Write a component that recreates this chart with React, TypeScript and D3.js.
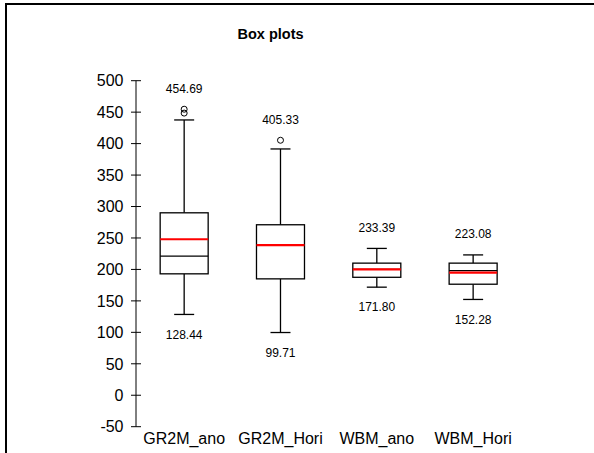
import React from "react";
import * as d3 from "d3";

const categories = ["GR2M_ano", "GR2M_Hori", "WBM_ano", "WBM_Hori"];
const whiskerMin = [128.44, 99.71, 171.8, 152.28];
const q1 = [193, 185, 187.5, 176.5];
const median = [221, 238.5, 200, 198];
const mean = [248, 238.5, 200.2, 195];
const q3 = [290, 271, 210, 210];
const whiskerMax = [437.6, 391.5, 233.39, 223.08];
const outliers = [[454.69, 448.5], [405.33], [], []];
const maxLabels = ["454.69", "405.33", "233.39", "223.08"];
const minLabels = ["128.44", "99.71", "171.80", "152.28"];
const yTicks = [-50, 0, 50, 100, 150, 200, 250, 300, 350, 400, 450, 500];

const W = 594;
const H = 453;
const font = "Liberation Sans, Arial, sans-serif";

export default function App() {
  const y = d3.scaleLinear().domain([-50, 500]).range([426.7, 80.7]);
  const x = d3.scaleBand<string>().domain(categories).range([136, 521.3]).padding(0);
  const bw = x.bandwidth();
  const boxW = 48;
  const capW = 20;

  return (
    <svg width={W} height={H} style={{ position: "absolute", left: 0, top: 0, background: "#fff" }}>
      <rect x={0} y={0} width={W} height={H} fill="#fff" />
      <path d={`M${W},4 L6,4 L6,${H}`} fill="none" stroke="#000" strokeWidth={2} />
      <text x={270.5} y={39} textAnchor="middle" fontFamily={font} fontWeight="bold" fontSize={14.5} fill="#000">
        Box plots
      </text>
      {/* y axis */}
      <line x1={136} x2={136} y1={y(500)} y2={y(-50)} stroke="#000" strokeWidth={1} />
      {yTicks.map((t) => (
        <g key={t}>
          <line x1={131} x2={141} y1={y(t)} y2={y(t)} stroke="#000" strokeWidth={1} />
          <text x={123.5} y={y(t)} dy="0.36em" textAnchor="end" fontFamily={font} fontSize={16} fill="#000">
            {t}
          </text>
        </g>
      ))}
      {categories.map((c, i) => {
        const cx = (x(c) as number) + bw / 2;
        const top = outliers[i].length ? Math.max(...outliers[i]) : whiskerMax[i];
        return (
          <g key={c}>
            <line x1={cx} x2={cx} y1={y(whiskerMax[i])} y2={y(q3[i])} stroke="#000" strokeWidth={1.3} />
            <line x1={cx} x2={cx} y1={y(q1[i])} y2={y(whiskerMin[i])} stroke="#000" strokeWidth={1.3} />
            <line x1={cx - capW / 2} x2={cx + capW / 2} y1={y(whiskerMax[i])} y2={y(whiskerMax[i])} stroke="#000" strokeWidth={1.3} />
            <line x1={cx - capW / 2} x2={cx + capW / 2} y1={y(whiskerMin[i])} y2={y(whiskerMin[i])} stroke="#000" strokeWidth={1.3} />
            <rect x={cx - boxW / 2} y={y(q3[i])} width={boxW} height={y(q1[i]) - y(q3[i])} fill="#fff" stroke="#000" strokeWidth={1.3} />
            <line x1={cx - boxW / 2} x2={cx + boxW / 2} y1={y(median[i])} y2={y(median[i])} stroke="#000" strokeWidth={1.3} />
            <line x1={cx - boxW / 2} x2={cx + boxW / 2} y1={y(mean[i])} y2={y(mean[i])} stroke="#ff0000" strokeWidth={2.2} />
            {outliers[i].map((o, j) => (
              <circle key={j} cx={cx} cy={y(o)} r={3} fill="none" stroke="#000" strokeWidth={1} />
            ))}
            <text x={cx} y={y(top) - 21} dy="0.36em" textAnchor="middle" fontFamily={font} fontSize={12} fill="#000">
              {maxLabels[i]}
            </text>
            <text x={cx} y={y(whiskerMin[i]) + 20} dy="0.36em" textAnchor="middle" fontFamily={font} fontSize={12} fill="#000">
              {minLabels[i]}
            </text>
            <text x={cx} y={444} textAnchor="middle" fontFamily={font} fontSize={16} fill="#000">
              {c}
            </text>
          </g>
        );
      })}
    </svg>
  );
}
